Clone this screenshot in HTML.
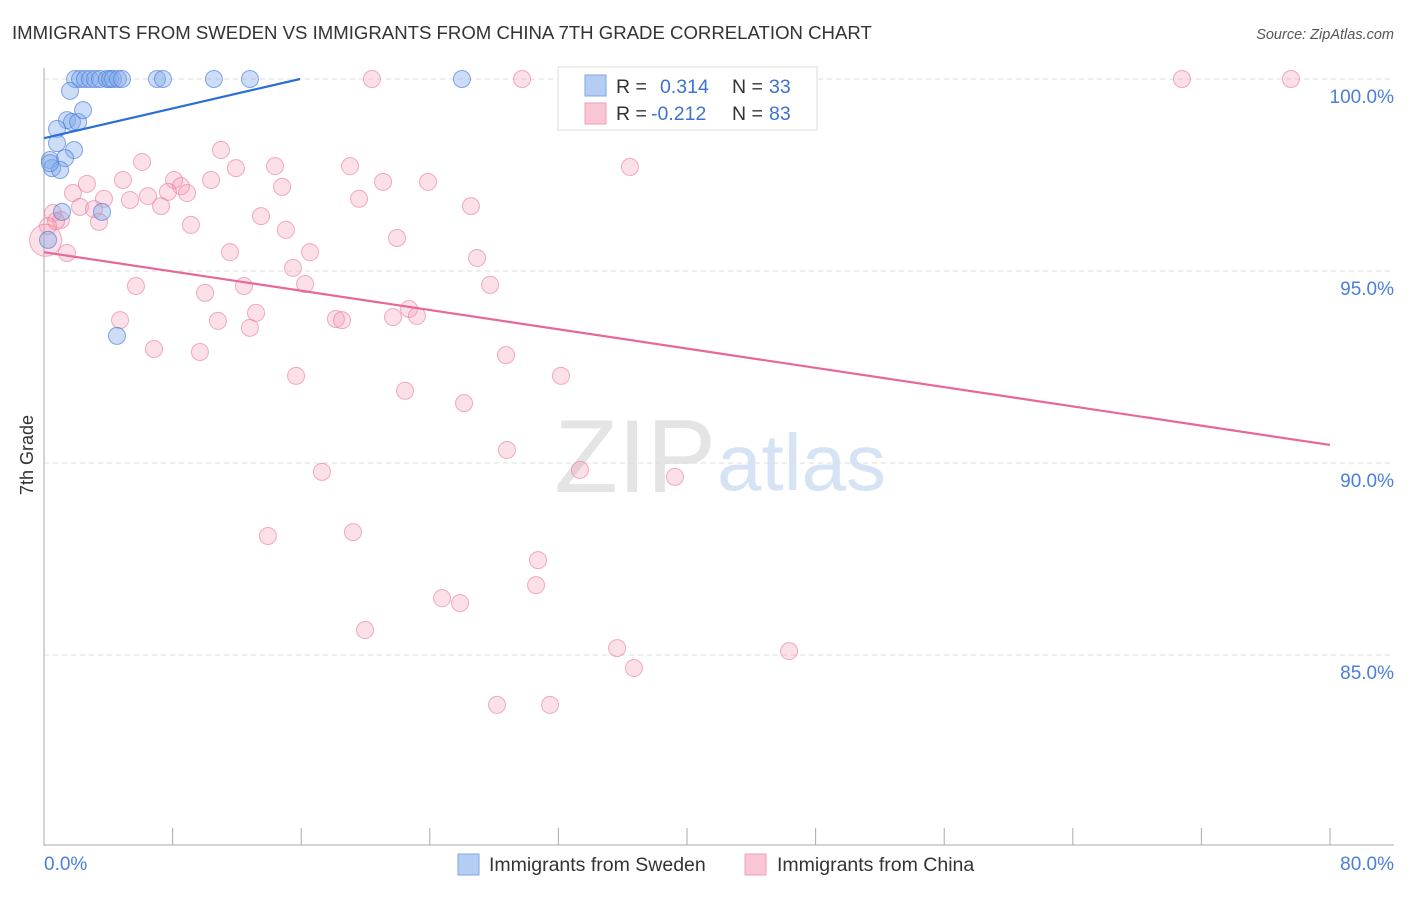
<!DOCTYPE html>
<html><head><meta charset="utf-8">
<style>
body{margin:0;background:#fff;font-family:"Liberation Sans",sans-serif;}
svg text{font-family:"Liberation Sans",sans-serif;}
</style></head>
<body>
<svg width="1406" height="892" viewBox="0 0 1406 892" xmlns="http://www.w3.org/2000/svg">
<text x="12" y="39" font-size="18.6" fill="#333">IMMIGRANTS FROM SWEDEN VS IMMIGRANTS FROM CHINA 7TH GRADE CORRELATION CHART</text>
<text x="1394" y="39" font-size="14.5" fill="#555" font-style="italic" text-anchor="end">Source: ZipAtlas.com</text>
<text x="716" y="492" font-size="104" fill="#e4e4e4" font-family="Liberation Serif" text-anchor="end">ZIP</text>
<text x="717" y="490" font-size="80" fill="#d6e3f5">atlas</text>
<g id="grid"></g>
<g id="axes"></g>
<g id="marks"></g>
<g id="lines"></g>
<text x="33" y="455" font-size="18" fill="#333" text-anchor="middle" transform="rotate(-90 33 455)">7th Grade</text>
<text x="44" y="870" font-size="19" fill="#4a7fd6">0.0%</text>
<text x="1394" y="870" font-size="19" fill="#4a7fd6" text-anchor="end">80.0%</text>
<g>
<rect x="558" y="67" width="259" height="63" fill="#fff" stroke="#ddd"/>
<rect x="585" y="75" width="21" height="21" fill="#b5cdf3" stroke="#7ea6e6"/>
<rect x="585" y="103" width="21" height="21" fill="#f9c6d5" stroke="#ef9fb8"/>
<text x="616" y="93" font-size="19.5" fill="#333">R = </text><text x="660" y="93" font-size="19.5" fill="#3b73d1">0.314</text>
<text x="732" y="93" font-size="19.5" fill="#333">N = </text><text x="769" y="93" font-size="19.5" fill="#3b73d1">33</text>
<text x="616" y="120" font-size="19.5" fill="#333">R = </text><text x="651" y="120" font-size="19.5" fill="#3b73d1">-0.212</text>
<text x="732" y="120" font-size="19.5" fill="#333">N = </text><text x="769" y="120" font-size="19.5" fill="#3b73d1">83</text>
</g>
<g>
<rect x="458" y="854" width="21" height="21" fill="#b5cdf3" stroke="#7ea6e6"/>
<text x="489" y="871" font-size="19.5" fill="#333">Immigrants from Sweden</text>
<rect x="745" y="854" width="21" height="21" fill="#f9c6d5" stroke="#ef9fb8"/>
<text x="777" y="871" font-size="19.5" fill="#333">Immigrants from China</text>
</g>
</svg>
<script>
const yTicks=[100,95,90,85];
const yTickLabels=["100.0%","95.0%","90.0%","85.0%"];
const xTicks=[0,8,16,24,32,40,48,56,64,72,80];
const swedenX=[1.93,2.24,2.55,2.86,3.17,3.48,3.92,4.11,4.29,4.60,4.85,7.03,7.40,10.57,12.81,26.0,1.62,1.43,1.74,2.12,2.43,0.81,0.81,1.87,1.31,0.37,0.50,1.0,1.12,3.61,0.25,4.54,0.37];
const swedenY=[100,100,100,100,100,100,100,100,100,100,100,100,100,100,100,100,99.69,98.93,98.88,98.88,99.19,98.70,98.33,98.15,97.94,97.89,97.68,97.63,96.54,96.54,95.81,93.31,97.81];
const chinaX=[20.40,29.74,32.97,40.81,70.79,77.57,6.10,11.01,11.94,14.37,19.04,36.45,8.09,10.39,4.91,2.67,8.52,14.81,21.09,23.89,7.71,8.90,1.80,3.73,5.35,6.47,2.24,3.11,7.28,19.60,26.56,0.56,1.06,3.42,9.14,13.50,15.05,21.96,11.57,16.55,26.94,1.43,0.25,15.49,5.72,10.02,12.44,16.24,27.75,4.73,10.82,13.19,12.81,18.16,18.54,21.71,22.71,23.20,6.84,9.70,28.74,32.16,15.68,22.46,26.13,28.80,17.29,33.34,39.25,13.93,19.22,30.73,30.61,24.76,25.88,19.97,35.65,46.35,36.70,28.18,31.48,0.75,0.1];
const chinaY=[100,100,100,100,100,100,97.84,98.15,97.68,97.73,97.73,97.71,97.37,97.37,97.37,97.27,97.21,97.19,97.32,97.32,97.06,97.03,97.03,96.88,96.85,96.95,96.67,96.61,96.69,96.88,96.69,96.51,96.33,96.28,96.20,96.43,96.07,95.86,95.49,95.49,95.34,95.47,96.17,95.08,94.61,94.43,94.61,94.66,94.64,93.72,93.70,93.91,93.52,93.75,93.72,93.80,94.01,93.83,92.97,92.89,92.81,92.27,92.27,91.88,91.56,90.34,89.77,89.82,89.64,88.10,88.20,87.47,86.82,86.48,86.35,85.65,85.18,85.10,84.66,83.70,83.70,96.3,95.8];
const swedenTrend=[[0,98.46],[15.93,100]];
const chinaTrend=[[0,95.49],[80,90.47]];
const NS="http://www.w3.org/2000/svg";
const sx=v=>44+v*16.075, sy=v=>79+(100-v)*38.4;
function mk(tag,attrs,parent){const e=document.createElementNS(NS,tag);for(const k in attrs)e.setAttribute(k,attrs[k]);parent.appendChild(e);return e;}
const grid=document.getElementById('grid'),axes=document.getElementById('axes'),marks=document.getElementById('marks'),lines=document.getElementById('lines');
yTicks.forEach((t,i)=>{
 const l=mk('line',{x1:44,x2:1394,y1:sy(t),y2:sy(t),stroke:'#dcdcdc','stroke-dasharray':'5,4'},grid);
 
 
 const tx=mk('text',{x:1394,y:sy(t)+24,'font-size':19,fill:'#4a7fd6','text-anchor':'end'},axes);
 tx.textContent=yTickLabels[i];
 
 
});
const ax=mk('line',{x1:44,x2:44,y1:68,y2:846,stroke:'#aaa'},axes);


const bx=mk('line',{x1:44,x2:1394,y1:845,y2:845,stroke:'#aaa'},axes);


xTicks.forEach(t=>{
 const l=mk('line',{x1:sx(t),x2:sx(t),y1:828,y2:845,stroke:'#aaa'},axes);
 
 
});
chinaX.forEach((x,i)=>{
 const big=i===chinaX.length-1;
 const c=mk('circle',{cx:sx(x),cy:sy(chinaY[i]),r:big?16:8.5,fill:'rgba(245,160,185,0.32)',stroke:'rgba(232,120,155,0.6)','stroke-width':1},marks);
 
 
});
swedenX.forEach((x,i)=>{
 const c=mk('circle',{cx:sx(x),cy:sy(swedenY[i]),r:8.5,fill:'rgba(130,170,235,0.4)',stroke:'rgba(70,125,215,0.65)','stroke-width':1},marks);
 
 
});
const bl=mk('line',{x1:sx(swedenTrend[0][0]),y1:sy(swedenTrend[0][1]),x2:sx(swedenTrend[1][0]),y2:sy(swedenTrend[1][1]),stroke:'#2a6fd6','stroke-width':2.2},lines);


const pl=mk('line',{x1:sx(chinaTrend[0][0]),y1:sy(chinaTrend[0][1]),x2:sx(chinaTrend[1][0]),y2:sy(chinaTrend[1][1]),stroke:'#e8679a','stroke-width':2.2},lines);


</script>
</body></html>
